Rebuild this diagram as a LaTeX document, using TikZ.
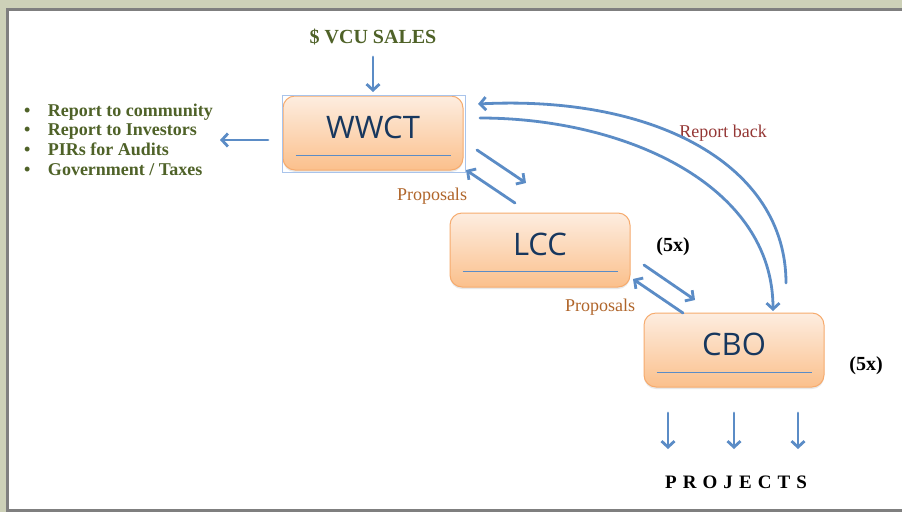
\documentclass[tikz,border=0pt]{standalone}
\usepackage{fontspec}
\setmainfont{Liberation Serif}
\newfontfamily\boxfont{Open Sans}
\usetikzlibrary{arrows.meta,shadows}
\definecolor{framegreen}{HTML}{CDD1B8}
\definecolor{framegrey}{HTML}{7F7F7F}
\definecolor{salesgreen}{HTML}{4F6228}
\definecolor{flowblue}{HTML}{5B8CC6}
\definecolor{selblue}{HTML}{A9C4EB}
\definecolor{boxtop}{HTML}{FDEDE0}
\definecolor{boxbottom}{HTML}{FBC08C}
\definecolor{boxedge}{HTML}{F6AB6E}
\definecolor{boxink}{HTML}{17375E}
\definecolor{proposalbrown}{HTML}{B0652A}
\definecolor{reportred}{HTML}{953735}

\tikzset{
  orgbox/.style={rounded corners=12pt, minimum width=180pt, minimum height=74pt,
    top color=boxtop, bottom color=boxbottom, draw=boxedge, line width=1pt,
    drop shadow={opacity=0.18, shadow xshift=0pt, shadow yshift=-2pt},
    font=\boxfont\fontsize{31}{31}\selectfont, text=boxink,
    text height=21pt, text depth=10pt},
  underline/.style={draw=flowblue, line width=1.1pt},
  flow/.style={draw=flowblue, line width=2.8pt, line cap=round,
    -{Straight Barb[length=6pt,width=13pt]}},
  lbl/.style={inner sep=0pt},
}

\begin{document}
\begin{tikzpicture}[x=1pt,y=-1pt] %pixel coordinates, y grows downwards
\useasboundingbox (0,0) rectangle (902,512);
\fill[white] (0,0) rectangle (902,512);
%window frame
\fill[framegreen] (0,0) rectangle (902,8);
\fill[framegreen] (0,0) rectangle (6,512);
\fill[framegrey] (6,8) rectangle (902,11);
\fill[framegrey] (6,8) rectangle (9,512);
\fill[framegrey] (6,509) rectangle (902,512);

%the three committees
\node[orgbox] (wwct) at (373,133) {WWCT};
\node[orgbox] (lcc) at (540,250) {LCC};
\node[orgbox] (cbo) at (734,350) {CBO};
\draw[underline] ([xshift=13pt,yshift=15pt]wwct.south west) -- ([xshift=-13pt,yshift=15pt]wwct.south east);
\draw[underline] ([xshift=13pt,yshift=16pt]lcc.south west) -- ([xshift=-13pt,yshift=16pt]lcc.south east);
\draw[underline] ([xshift=13pt,yshift=15pt]cbo.south west) -- ([xshift=-13pt,yshift=15pt]cbo.south east);
\draw[selblue, line width=0.6pt] (282,95) rectangle (465,172); %selection frame round WWCT

%labels
\node[lbl, font=\bfseries\fontsize{20}{20}\selectfont, text=salesgreen] (sales) at (373,37) {\$ VCU SALES};
\node[lbl, anchor=base west, font=\bfseries\fontsize{18}{19.7}\selectfont, text=salesgreen] (reports) at (24,116)
  {\begin{tabular}[t]{@{}l@{\hspace{17.5pt}}l@{}}
   \textbullet & Report to community\\
   \textbullet & Report to Investors\\
   \textbullet & PIRs for Audits\\
   \textbullet & Government / Taxes
   \end{tabular}};
\node[lbl, font=\fontsize{18}{18}\selectfont, text=proposalbrown] (prop1) at (432,196) {Proposals};
\node[lbl, font=\fontsize{18}{18}\selectfont, text=proposalbrown] (prop2) at (600,307) {Proposals};
\node[lbl, font=\fontsize{18}{18}\selectfont, text=reportred] (back) at (723,133) {Report back};
\node[lbl, font=\bfseries\fontsize{20}{20}\selectfont] (times1) at (673,247) {(5x)};
\node[lbl, font=\bfseries\fontsize{20}{20}\selectfont] (times2) at (866,366) {(5x)};
\node[lbl, font=\bfseries\fontsize{19}{19}\selectfont] (projects) at (736,482) {\addfontfeature{LetterSpace=32}PROJECTS};

%arrow ends
\coordinate (salesout) at (373,57);
\coordinate (wwctin) at (373,92);
\coordinate (wwctout) at (268,140);
\coordinate (reportsin) at (220,140);
\coordinate (wwctdown) at (477,150);
\coordinate (lccin) at (526,183);
\coordinate (lccup) at (515,203);
\coordinate (wwctback) at (466,170);
\coordinate (lccdown) at (644,265);
\coordinate (cboin) at (695,300);
\coordinate (cboup) at (683,313);
\coordinate (lccback) at (633,279);
\coordinate (cboreport) at (786,283);
\coordinate (wwctreport) at (478,104);
\coordinate (wwctsend) at (480,118);
\coordinate (cbotop) at (773,311);

%connectors
\draw[flow] (salesout) -- (wwctin);
\draw[flow] (wwctout) -- (reportsin);
\draw[flow] (wwctdown) -- (lccin);
\draw[flow] (lccup) -- (wwctback);
\draw[flow] (lccdown) -- (cboin);
\draw[flow] (cboup) -- (lccback);
\draw[flow] (cboreport) .. controls (786,165) and (655,95) .. (wwctreport); %report back
\draw[flow] (wwctsend) .. controls (625,118) and (773,185) .. (cbotop);
\draw[flow] (668,413) -- (668,449); %to projects
\draw[flow] (734,413) -- (734,449);
\draw[flow] (798,413) -- (798,449);
\end{tikzpicture}
\end{document}
